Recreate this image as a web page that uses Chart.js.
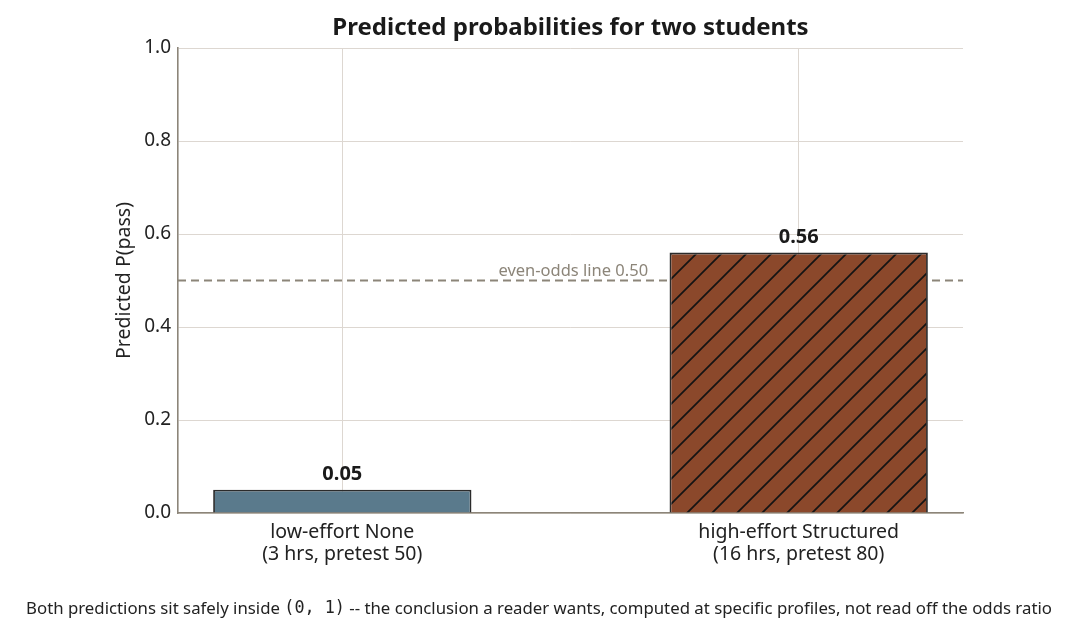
<!DOCTYPE html>
<html>
<head>
<meta charset="utf-8">
<script src="https://cdn.jsdelivr.net/npm/chart.js@4"></script>
<style>
  body { margin: 0; background: #fff; }
  #wrap { width: 1078px; height: 640px; position: relative; }
</style>
</head>
<body>
<div id="wrap"><canvas id="prob-chart"></canvas></div>
<script>
const categories = ['low-effort None', 'high-effort Structured'];
const profiles = ['(3 hrs, pretest 50)', '(16 hrs, pretest 80)'];
const passProb = [0.05, 0.56];
const valueLabels = ['0.05', '0.56'];
const evenOdds = 0.5;
const evenOddsLabel = 'even-odds line 0.50';
const chartTitle = 'Predicted probabilities for two students';
const yTitle = 'Predicted P(pass)';
const footerParts = [
  ['Both predictions sit safely inside ', 'sans'],
  ['(0, 1)', 'mono'],
  [' -- the conclusion a reader wants, computed at specific profiles, not read off the odds ratio', 'sans']
];

const FONT = '"Noto Sans", "Open Sans", sans-serif';
const INK = '#222222';
const AXIS = '#8c8579';
const GRID = '#ddd7d1';

// hatched fill for the second bar
function hatch(base) {
  const s = 25;
  const c = document.createElement('canvas');
  c.width = s; c.height = s;
  const g = c.getContext('2d');
  g.fillStyle = base;
  g.fillRect(0, 0, s, s);
  g.strokeStyle = '#141414';
  g.lineWidth = 1.7;
  g.beginPath();
  g.moveTo(-2, s + 2); g.lineTo(s + 2, -2);
  g.moveTo(-2, 2); g.lineTo(2, -2);
  g.moveTo(s - 2, s + 2); g.lineTo(s + 2, s - 2);
  g.stroke();
  return document.getElementById('prob-chart').getContext('2d').createPattern(c, 'repeat');
}

const textPlugin = {
  id: 'texts',
  beforeDatasetsDraw(chart) {
    const { ctx, chartArea, scales } = chart;
    const y = scales.y.getPixelForValue(evenOdds);
    ctx.save();
    ctx.strokeStyle = AXIS;
    ctx.lineWidth = 2;
    ctx.setLineDash([8, 5]);
    ctx.beginPath();
    ctx.moveTo(chartArea.left, y);
    ctx.lineTo(chartArea.right, y);
    ctx.stroke();
    ctx.setLineDash([]);
    ctx.fillStyle = AXIS;
    ctx.font = '16.5px ' + FONT;
    ctx.textAlign = 'right';
    ctx.textBaseline = 'bottom';
    ctx.fillText(evenOddsLabel, scales.x.getPixelForValue(0.67), y - 1);
    ctx.restore();
  },
  afterDatasetsDraw(chart) {
    const { ctx } = chart;
    const meta = chart.getDatasetMeta(0);
    ctx.save();
    ctx.fillStyle = '#1a1a1a';
    ctx.font = 'bold 20px ' + FONT;
    ctx.textAlign = 'center';
    ctx.textBaseline = 'bottom';
    meta.data.forEach((bar, i) => {
      ctx.fillText(valueLabels[i], bar.x, bar.y - 5);
    });
    ctx.restore();
  },
  afterDraw(chart) {
    const { ctx, chartArea } = chart;
    ctx.save();
    ctx.fillStyle = '#1a1a1a';
    ctx.font = 'bold 24px ' + FONT;
    ctx.textAlign = 'center';
    ctx.textBaseline = 'middle';
    ctx.fillText(chartTitle, (chartArea.left + chartArea.right) / 2, 28);

    ctx.fillStyle = INK;
    ctx.font = '19.5px ' + FONT;
    ctx.translate(124, (chartArea.top + chartArea.bottom) / 2);
    ctx.rotate(-Math.PI / 2);
    ctx.fillText(yTitle, 0, 0);
    ctx.setTransform(1, 0, 0, 1, 0, 0);
    ctx.restore();

    // footer caption, mixed fonts
    ctx.save();
    const fonts = { sans: '16.8px ' + FONT, mono: '16.8px "DejaVu Sans Mono", monospace' };
    let total = 0;
    footerParts.forEach(([t, f]) => { ctx.font = fonts[f]; total += ctx.measureText(t).width; });
    let x = chart.width / 2 - total / 2;
    ctx.fillStyle = INK;
    ctx.textAlign = 'left';
    ctx.textBaseline = 'middle';
    footerParts.forEach(([t, f]) => {
      ctx.font = fonts[f];
      ctx.fillText(t, x, 609);
      x += ctx.measureText(t).width;
    });
    ctx.restore();
  }
};

const data = {
  datasets: [{
    data: passProb.map((v, i) => ({ x: i, y: v })),
    backgroundColor: ['#5a7a8c', hatch('#8b482b')],
    borderColor: '#2b2b2b',
    borderWidth: 1.8,
    borderSkipped: 'start',
    categoryPercentage: 1,
    barPercentage: 0.566,
  }]
};

const config = {
  type: 'bar',
  data: data,
  plugins: [textPlugin],
  options: {
    responsive: true,
    maintainAspectRatio: false,
    animation: false,
    devicePixelRatio: 1,
    layout: { padding: { top: 48, right: 115, left: 0, bottom: 0 } },
    plugins: { legend: { display: false }, tooltip: { enabled: false } },
    scales: {
      x: {
        type: 'linear',
        min: -0.36,
        max: 1.36,
        offset: false,
        afterBuildTicks: (scale) => { scale.ticks = categories.map((c, i) => ({ value: i })); },
        afterFit: (scale) => { scale.height = 127; },
        grid: { color: GRID, lineWidth: 1, drawTicks: false, offset: false },
        border: { color: AXIS, width: 1.6 },
        ticks: {
          padding: 8,
          color: INK,
          font: { family: FONT, size: 19.5, lineHeight: 1.15 },
          callback: (v) => [categories[v], profiles[v]],
        },
      },
      y: {
        min: 0,
        max: 1,
        afterFit: (scale) => { scale.width = 178; },
        grid: { color: GRID, lineWidth: 1, drawTicks: false },
        border: { color: AXIS, width: 1.6 },
        ticks: {
          stepSize: 0.2,
          padding: 7,
          color: INK,
          font: { family: FONT, size: 19 },
          callback: (v) => v.toFixed(1),
        },
      },
    },
  },
};

const ctx = document.getElementById('prob-chart');
new Chart(ctx, config);
</script>
</body>
</html>
